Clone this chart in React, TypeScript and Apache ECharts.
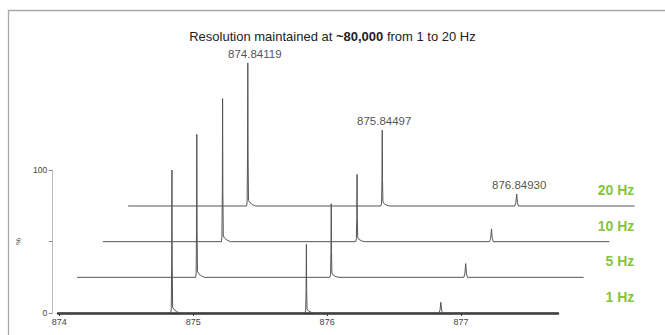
import React, { useEffect, useRef } from "react";
import * as echarts from "echarts";

// ---- data ----
const traceNames = ["1 Hz", "5 Hz", "10 Hz", "20 Hz"];
const xTicks = [874, 875, 876, 877];
const yTicks = [0, 50, 100];
const yLabels = [0, 100];
const peakMz = [874.84119, 875.84497, 876.8493];
const peakLabels = ["874.84119", "875.84497", "876.84930"];

const trace1Hz: [number, number][] = [
  [873.99, 0], [874.832, 0], [874.836, 3], [874.839, 35], [874.841, 100], [874.843, 35], [874.846, 4], [874.856, 2.5], [874.875, 1], [874.9, 0],
  [875.835, 0], [875.840, 2], [875.843, 17], [875.845, 48], [875.847, 17], [875.850, 3], [875.860, 1.5], [875.880, 0.5], [875.9, 0],
  [876.835, 0], [876.843, 2], [876.849, 7.5], [876.855, 2], [876.863, 0],
  [877.724, 0],
];
const trace5Hz: [number, number][] = [
  [873.947, 0], [874.832, 0], [874.836, 3], [874.839, 35], [874.841, 100], [874.843, 35], [874.846, 4], [874.856, 2.5], [874.875, 1], [874.9, 0],
  [875.835, 0], [875.840, 2], [875.843, 18], [875.845, 51.5], [875.847, 18], [875.850, 3], [875.860, 1.5], [875.880, 0.5], [875.9, 0],
  [876.835, 0], [876.843, 2.5], [876.849, 9.6], [876.855, 2.5], [876.863, 0],
  [877.73, 0],
];
const trace10Hz: [number, number][] = [
  [873.947, 0], [874.832, 0], [874.836, 3], [874.839, 35], [874.841, 100], [874.843, 35], [874.846, 4], [874.856, 2.5], [874.875, 1], [874.9, 0],
  [875.835, 0], [875.840, 2], [875.843, 16], [875.845, 47], [875.847, 16], [875.850, 3], [875.860, 1.5], [875.880, 0.5], [875.9, 0],
  [876.835, 0], [876.843, 2.3], [876.849, 8.9], [876.855, 2.3], [876.863, 0],
  [877.73, 0],
];
const trace20Hz: [number, number][] = [
  [873.947, 0], [874.832, 0], [874.836, 3], [874.839, 35], [874.841, 100], [874.843, 35], [874.846, 4], [874.856, 2.5], [874.875, 1], [874.9, 0],
  [875.835, 0], [875.840, 2], [875.843, 18], [875.845, 53], [875.847, 18], [875.850, 3], [875.860, 1.5], [875.880, 0.5], [875.9, 0],
  [876.835, 0], [876.843, 2.2], [876.849, 8.4], [876.855, 2.2], [876.863, 0],
  [877.73, 0],
];
const traces = [trace1Hz, trace5Hz, trace10Hz, trace20Hz];
const peakHeights20Hz = [100, 53, 8.4];

// ---- layout ----
const FONT = "'Liberation Sans', Arial, sans-serif";
const GREEN = "#86c440";
const PX_PER_UNIT = 133.9;
const BASE0 = 313;
const DY = 35.67;
const DX = [0, 24.8, 50.6, 75.8];
const PLOT_H = 143;

export default function App() {
  const ref = useRef<HTMLDivElement>(null);
  useEffect(() => {
    if (!ref.current) return;
    const chart = echarts.init(ref.current, null, { renderer: "svg" });

    const grids: any[] = [];
    const xAxes: any[] = [];
    const yAxes: any[] = [];
    const series: any[] = [];

    traces.forEach((tr, i) => {
      const xmin = tr[0][0];
      const xmax = tr[tr.length - 1][0];
      const base = BASE0 - DY * i;
      const left = i === 0 ? 58 : 52.3 + DX[i];
      grids.push({
        left,
        top: base - PLOT_H,
        width: (xmax - xmin) * PX_PER_UNIT,
        height: PLOT_H,
      });
      xAxes.push(
        i === 0
          ? {
              type: "value",
              gridIndex: i,
              min: xmin,
              max: xmax,
              axisLine: { show: true, lineStyle: { color: "#333", width: 2.5 } },
              axisTick: { show: true, customValues: xTicks, length: 3, lineStyle: { color: "#333" } },
              axisLabel: { customValues: xTicks, fontSize: 9, color: "#444", margin: 4, fontFamily: FONT },
              splitLine: { show: false },
            }
          : { type: "value", gridIndex: i, min: xmin, max: xmax, show: false }
      );
      yAxes.push(
        i === 0
          ? {
              type: "value",
              gridIndex: i,
              min: 0,
              max: 100,
              offset: 5.7,
              axisLine: { show: true, lineStyle: { color: "#bbb", width: 1 } },
              axisTick: { show: true, customValues: yTicks, length: 3.5, lineStyle: { color: "#888" } },
              axisLabel: { customValues: yLabels, fontSize: 8.5, color: "#444", margin: 5, fontFamily: FONT },
              splitLine: { show: false },
              name: "%",
              nameLocation: "middle",
              nameRotate: 90,
              nameGap: 7,
              nameTextStyle: { fontSize: 8, color: "#444", fontFamily: FONT },
            }
          : { type: "value", gridIndex: i, min: 0, max: 100, show: false }
      );
      series.push({
        type: "line",
        xAxisIndex: i,
        yAxisIndex: i,
        data: tr,
        showSymbol: false,
        clip: false,
        lineStyle: { color: "#555", width: 1 },
        z: 10 - i,
      });
    });

    const labelOffsets = [[7, 0], [2, 0], [2.5, 0]];
    series.push({
      type: "scatter",
      xAxisIndex: 3,
      yAxisIndex: 3,
      symbolSize: 0,
      data: peakMz.map((m, k) => ({
        value: [m, peakHeights20Hz[k]],
        label: {
          show: true,
          position: "top",
          distance: 3,
          offset: labelOffsets[k],
          formatter: peakLabels[k],
          fontSize: 11.5,
          color: "#222",
          fontFamily: FONT,
        },
      })),
    });

    const hzGraphics = traceNames.map((name, i) => ({
      type: "text",
      x: 634.3,
      y: BASE0 - DY * i - 16,
      style: {
        text: name,
        fill: GREEN,
        font: `bold 14px ${FONT}`,
        textAlign: "right",
        textVerticalAlign: "middle",
      },
    }));

    chart.setOption({
      animation: false,
      backgroundColor: "#fff",
      title: {
        text: "{a|Resolution maintained at }{b|~80,000}{a| from 1 to 20 Hz}",
        left: "center",
        top: 25,
        textStyle: {
          fontWeight: "normal",
          rich: {
            a: { fontSize: 13, color: "#222", fontWeight: "normal", fontFamily: FONT },
            b: { fontSize: 13, color: "#222", fontWeight: "bold", fontFamily: FONT },
          },
        },
      },
      grid: grids,
      xAxis: xAxes,
      yAxis: yAxes,
      series,
      graphic: [
        {
          type: "polyline",
          shape: { points: [[8.5, 336], [8.5, 10.5], [666, 10.5]] },
          style: { stroke: "#a8a8a8", lineWidth: 1.3, fill: null },
          silent: true,
        },
        ...hzGraphics,
      ],
    });
    return () => chart.dispose();
  }, []);
  return (
    <div
      ref={ref}
      style={{ position: "absolute", left: 0, top: 0, width: 665, height: 335 }}
    />
  );
}
